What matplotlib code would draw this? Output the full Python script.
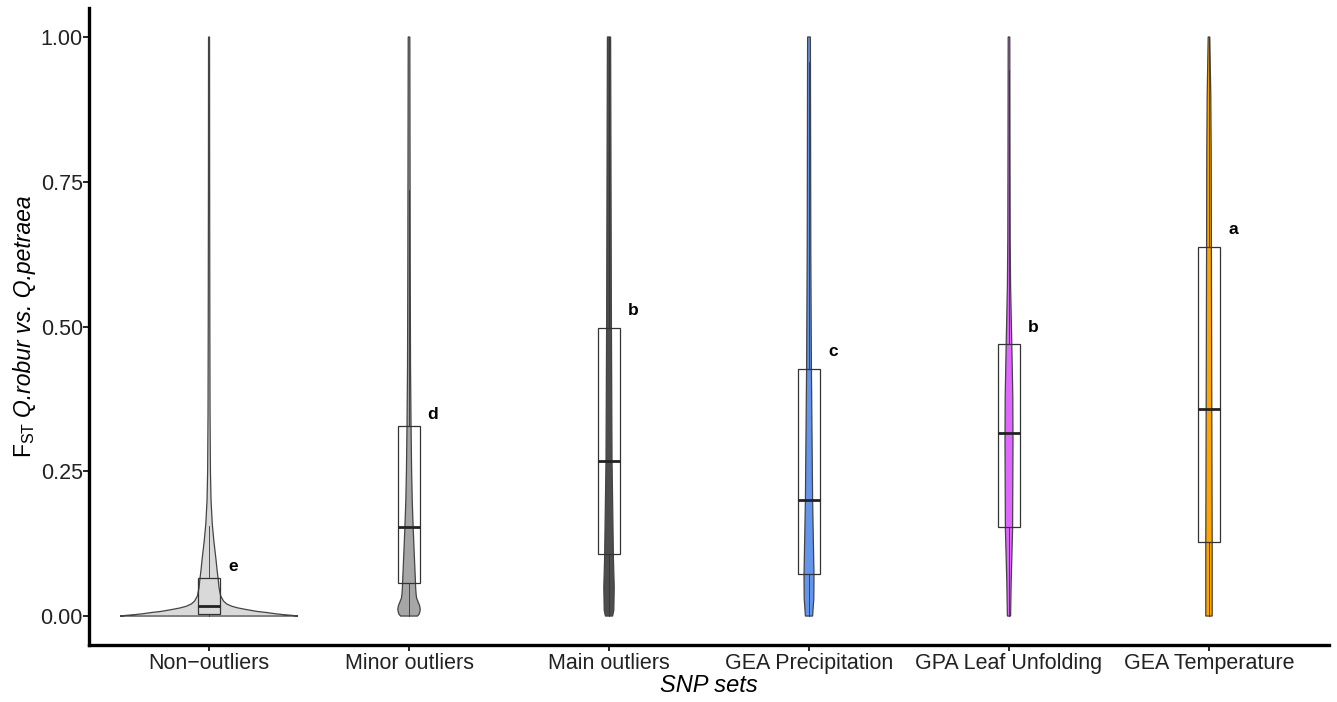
import numpy as np
import matplotlib
matplotlib.use("Agg")
import matplotlib.pyplot as plt

plt.rcParams['font.family'] = ['Liberation Sans', 'DejaVu Sans']
plt.rcParams['mathtext.fontset'] = 'custom'
plt.rcParams['mathtext.rm'] = 'Liberation Sans'
plt.rcParams['mathtext.it'] = 'Liberation Sans:italic'

categories = ["Non\u2212outliers", "Minor outliers", "Main outliers",
              "GEA Precipitation", "GPA Leaf Unfolding", "GEA Temperature"]
fills = ["#d9d9d9", "#a6a6a6", "#4d4d4d", "#6495ED", "#E066FF", "#FFA500"]
letters = ["e", "d", "b", "c", "b", "a"]
letter_y = [0.086, 0.348, 0.528, 0.457, 0.498, 0.667]

# box statistics
q1 = [0.004, 0.057, 0.107, 0.072, 0.153, 0.128]
med = [0.017, 0.154, 0.267, 0.200, 0.316, 0.358]
q3 = [0.065, 0.328, 0.497, 0.426, 0.469, 0.638]
whislo = [0.0, 0.0, 0.0, 0.0, 0.0, 0.0]
whishi = [0.155, 0.735, 1.0, 0.957, 0.943, 1.0]

# violin half-width profiles (FST level, half-width in category units)
non_v = [0, 0.001, 0.0025, 0.004, 0.006, 0.008, 0.011, 0.014, 0.017, 0.021, 0.026,
         0.035, 0.049, 0.063, 0.08, 0.097, 0.13, 0.16, 0.2, 0.25, 0.35, 0.5, 0.75, 1.0]
non_w = [0.445, 0.42, 0.37, 0.33, 0.29, 0.24, 0.19, 0.145, 0.113, 0.088, 0.072,
         0.058, 0.05, 0.046, 0.04, 0.035, 0.024, 0.016, 0.01, 0.007, 0.005, 0.004, 0.003, 0.0025]
minor_v = [0, 0.003, 0.007, 0.012, 0.018, 0.024, 0.031, 0.039, 0.05, 0.06, 0.1, 0.15,
           0.2, 0.25, 0.33, 0.43, 0.6, 0.8, 1.0]
minor_w = [0.042, 0.05, 0.054, 0.056, 0.053, 0.046, 0.038, 0.035, 0.033, 0.032, 0.027,
           0.021, 0.016, 0.013, 0.010, 0.0075, 0.006, 0.005, 0.004]
main_v = [0, 0.01, 0.05, 0.1, 0.27, 0.5, 0.75, 1.0]
main_w = [0.018, 0.024, 0.026, 0.022, 0.015, 0.012, 0.010, 0.008]
prec_v = [0, 0.03, 0.07, 0.2, 0.43, 0.63, 1.0]
prec_w = [0.018, 0.024, 0.025, 0.018, 0.012, 0.009, 0.007]
leaf_v = [0, 0.06, 0.15, 0.3, 0.38, 0.47, 0.57, 0.65, 0.8, 1.0]
leaf_w = [0.008, 0.011, 0.018, 0.020, 0.019, 0.014, 0.008, 0.006, 0.005, 0.004]
temp_v = [0, 0.13, 0.36, 0.64, 0.8, 0.9, 1.0]
temp_w = [0.016, 0.016, 0.014, 0.012, 0.011, 0.009, 0.004]

profiles = [(non_v, non_w), (minor_v, minor_w), (main_v, main_w),
            (prec_v, prec_w), (leaf_v, leaf_w), (temp_v, temp_w)]

W, H = 1337, 702
fig = plt.figure(figsize=(W / 100, H / 100), dpi=100)
ax = fig.add_axes([0.0666, 0.0812, 0.9274, 0.9074])

positions = np.arange(1, len(categories) + 1)

for pos, (vv, ww), fc in zip(positions, profiles, fills):
    vv = np.asarray(vv)
    ww = np.asarray(ww)
    xs = np.concatenate([pos - ww, (pos + ww)[::-1]])
    ys = np.concatenate([vv, vv[::-1]])
    ax.fill(xs, ys, facecolor=fc, edgecolor="#444444", linewidth=0.9, zorder=2)

stats = []
for i in range(len(categories)):
    stats.append(dict(q1=q1[i], med=med[i], q3=q3[i], whislo=whislo[i], whishi=whishi[i]))
ax.bxp(stats, positions=positions, widths=0.11, showfliers=False, showcaps=False,
       patch_artist=True, manage_ticks=False,
       boxprops=dict(facecolor="none", edgecolor="#333333", linewidth=0.9),
       whiskerprops=dict(color="#333333", linewidth=0.6),
       medianprops=dict(color="#222222", linewidth=2.0), zorder=3)

for pos, lt, ly in zip(positions, letters, letter_y):
    ax.text(pos + 0.12, ly, lt, fontsize=12.5, fontweight="bold", ha="center",
            va="center", color="black")

ax.set_xlim(0.4, 6.6)
ax.set_ylim(-0.05, 1.05)
ax.set_xticks(positions)
ax.set_xticklabels(categories, fontsize=15.5)
ax.set_yticks([0, 0.25, 0.5, 0.75, 1.0])
ax.set_yticklabels(["0.00", "0.25", "0.50", "0.75", "1.00"], fontsize=15.5)
ax.tick_params(axis="both", colors="black", width=1.2, length=4, labelcolor="#222222")
ax.tick_params(axis="y", pad=0.5)
ax.tick_params(axis="x", pad=1.5)
for s in ["top", "right"]:
    ax.spines[s].set_visible(False)
for s in ["left", "bottom"]:
    ax.spines[s].set_linewidth(2.4)
ax.set_xlabel("SNP sets", fontsize=17, style="italic", labelpad=0)

# y label: upright F_ST followed by italic species names
fig.canvas.draw()
renderer = fig.canvas.get_renderer()
t1 = fig.text(25 / W, (H - 458) / H, r"F$_{\mathregular{ST}}$", rotation=90, fontsize=16.5,
              ha="center", va="bottom")
ext = t1.get_window_extent(renderer)
fig.text(25 / W, (ext.y1 + 5) / H, "Q.robur vs. Q.petraea", rotation=90, fontsize=16.5,
         style="italic", ha="center", va="bottom")

fig.savefig("out.png", dpi=100)
